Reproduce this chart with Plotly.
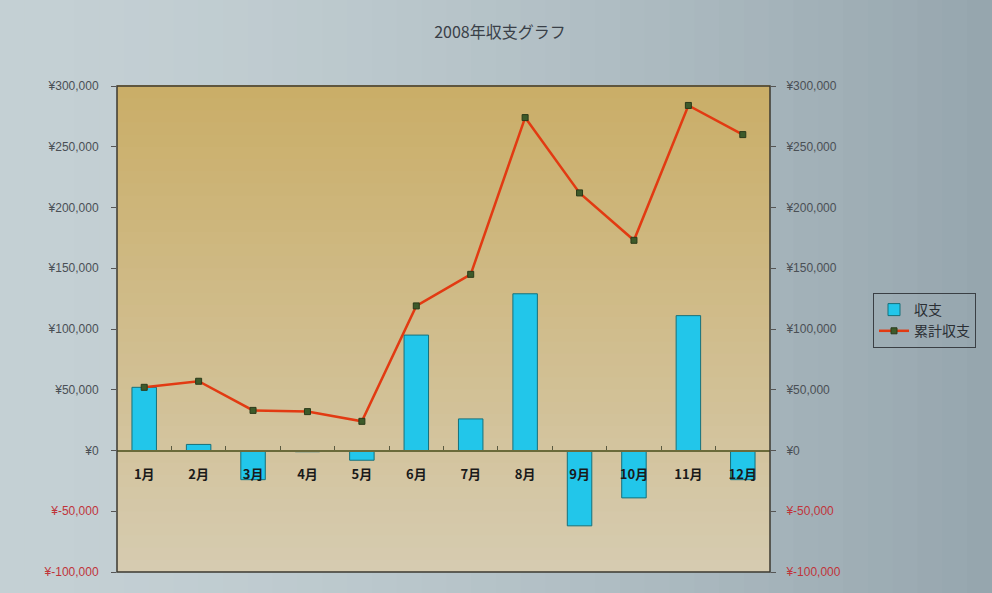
import numpy as np
import plotly.graph_objects as go

# 月別の収支データ (円)
months = ["1月", "2月", "3月", "4月", "5月", "6月", "7月", "8月", "9月", "10月", "11月", "12月"]
monthly = [52000, 5000, -24000, -1000, -8000, 95000, 26000, 129000, -62000, -39000, 111000, -24000]
cumulative = np.cumsum(monthly).tolist()

tick_vals = [-100000, -50000, 0, 50000, 100000, 150000, 200000, 250000, 300000]
tick_text = ["¥-100,000", "¥-50,000", "¥0", "¥50,000", "¥100,000", "¥150,000", "¥200,000", "¥250,000", "¥300,000"]

W, H = 992, 593
ML, MR, MT, MB = 117, 222, 86, 21
PW = W - ML - MR
PH = H - MT - MB

font = "Noto Sans CJK JP, sans-serif"

fig = go.Figure()

fig.add_trace(go.Bar(
    x=months, y=monthly, name="収支",
    marker=dict(color="#22c6ea", line=dict(color="#17707a", width=1)),
    width=0.45, yaxis="y",
))
fig.add_trace(go.Scatter(
    x=months, y=cumulative, name="累計収支", mode="lines+markers",
    line=dict(color="#e23a12", width=2.5),
    marker=dict(symbol="square", size=6, color="#3d5a2a", line=dict(color="#2a3a1a", width=1)),
    yaxis="y2",
))


def mix(c1, c2, t):
    return "rgb(%d,%d,%d)" % tuple(round(a + (b - a) * t) for a, b in zip(c1, c2))


shapes = []
# figure background: light blue-grey on the left, darker towards the right
n = 40
for i in range(n):
    x0 = -ML / PW + i * (W / PW) / n
    x1 = x0 + (W / PW) / n + 0.002
    t = i / (n - 1)
    shapes.append(dict(type="rect", xref="paper", yref="paper", x0=x0, x1=x1,
                       y0=-MB / PH, y1=1 + MT / PH, line=dict(width=0),
                       fillcolor=mix((196, 208, 212), (150, 166, 174), t ** 1.6), layer="below"))
# plot area: warm tan fading lighter toward the bottom
for i in range(n):
    y0 = i / n
    t = i / (n - 1)
    shapes.append(dict(type="rect", xref="paper", yref="paper", x0=0, x1=1,
                       y0=y0, y1=y0 + 1 / n + 0.002, line=dict(width=0),
                       fillcolor=mix((214, 203, 176), (202, 174, 104), t), layer="below"))
# plot area border
shapes.append(dict(type="rect", xref="paper", yref="paper", x0=0, x1=1, y0=0, y1=1,
                   line=dict(color="#3c3a30", width=1.5), fillcolor="rgba(0,0,0,0)"))

zero_pos = (0 - tick_vals[0]) / (tick_vals[-1] - tick_vals[0])

axis_font = dict(family="Liberation Sans, Arial, sans-serif", size=12, color="#4a4f55")

fig.update_layout(
    width=W, height=H,
    margin=dict(l=ML, r=MR, t=MT, b=MB),
    paper_bgcolor="#c0ccd0",
    plot_bgcolor="rgba(0,0,0,0)",
    title=dict(text="2008年収支グラフ", x=500 / W, xanchor="center",
               y=1 - 32 / H, yanchor="middle",
               font=dict(family=font, size=16, color="#3a4048")),
    shapes=shapes,
    xaxis=dict(
        type="category", anchor="free", position=zero_pos,
        showline=True, linecolor="#6a6a3a", linewidth=1.5,
        ticks="inside", ticklen=4, tickcolor="#5a5a40", tickson="boundaries",
        tickfont=dict(family=font, size=13, color="#1a1a1a", weight="bold"),
        ticklabelstandoff=12,
        showgrid=False, zeroline=False, range=[-0.5, 11.5],
    ),
    yaxis=dict(
        range=[tick_vals[0], tick_vals[-1]], tickvals=tick_vals, ticktext=tick_text,
        ticks="outside", ticklen=5, tickcolor="#555", showgrid=False, zeroline=False,
        tickfont=axis_font, ticklabelstandoff=10,
    ),
    yaxis2=dict(
        range=[tick_vals[0], tick_vals[-1]], tickvals=tick_vals, ticktext=tick_text,
        overlaying="y", side="right", ticks="outside", ticklen=5, tickcolor="#555",
        showgrid=False, zeroline=False, tickfont=axis_font, ticklabelstandoff=8,
    ),
    legend=dict(
        x=(873 - ML) / PW, xanchor="left", y=1 - (293 - MT) / PH, yanchor="top",
        bgcolor="rgba(0,0,0,0)", bordercolor="#3a3f44", borderwidth=1,
        font=dict(family=font, size=14, color="#2a2f34"),
        itemwidth=30, tracegroupgap=0,
    ),
    showlegend=True,
)

# negative tick labels are shown in red
fig.update_yaxes(ticktext=[
    f"<span style='color:#c0343a'>{t}</span>" if v < 0 else t
    for v, t in zip(tick_vals, tick_text)
])

fig.write_html("out.html")
